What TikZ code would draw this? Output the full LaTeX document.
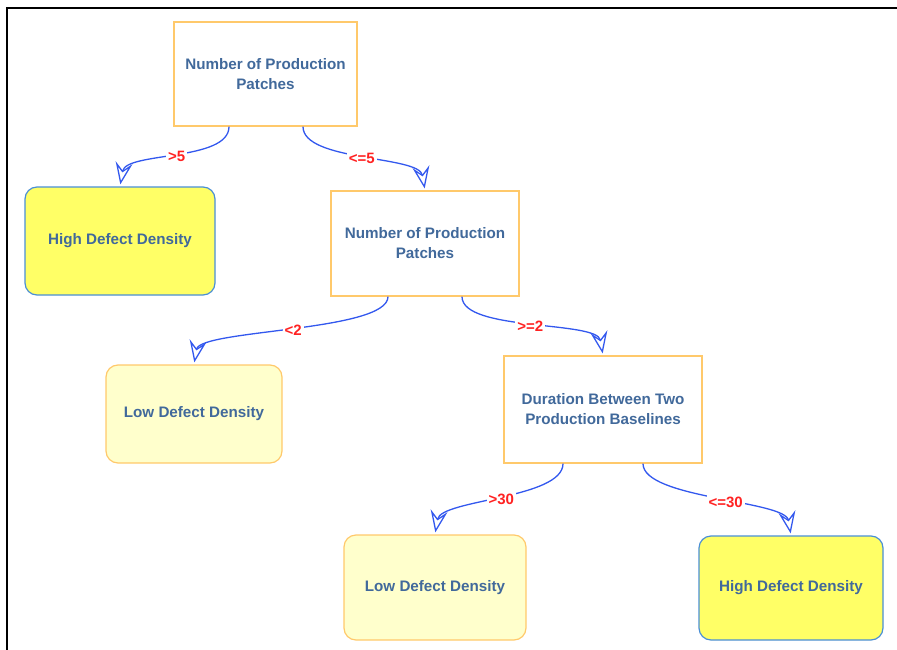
\documentclass[tikz,border=0pt]{standalone}
\usepackage{fontspec}
\setmainfont{Liberation Sans}
\usetikzlibrary{arrows.meta}

\definecolor{txtblue}{HTML}{41699B}
\definecolor{boxorange}{HTML}{FFC96B}
\definecolor{leafblue}{HTML}{4A8FD6}
\definecolor{leafyellow}{HTML}{FFFF66}
\definecolor{paleyellow}{HTML}{FFFFCC}
\definecolor{edgeblue}{HTML}{3358EE}
\definecolor{lblred}{HTML}{FF2222}

\begin{document}
\begin{tikzpicture}[x=1pt,y=-1pt,
    test/.style={draw=boxorange,line width=1.2pt,fill=white,text=txtblue,align=center,
      font=\fontsize{15.2}{20}\selectfont\bfseries},
    high/.style={draw=leafblue,line width=1.2pt,fill=leafyellow,rounded corners=12pt,text=txtblue,
      font=\fontsize{15.2}{20}\selectfont\bfseries},
    low/.style={draw=boxorange,line width=1.2pt,fill=paleyellow,rounded corners=12pt,text=txtblue,
      font=\fontsize{15.2}{20}\selectfont\bfseries},
    branch/.style={draw=edgeblue,line width=1.3pt,shorten >=2pt,
      -{Stealth[open,length=22pt,width=17pt,inset=8pt]}},
    cond/.style={text=lblred,fill=white,inner sep=2pt,font=\fontsize{15}{16}\selectfont\bfseries}]
            \useasboundingbox (0,0) rectangle (897,650);
            \draw[line width=2.5pt] (7,650) -- (7,8) -- (897,8);

            \node[test,minimum width=183pt,minimum height=104pt] (root) at (265.5,74) {Number of Production\\Patches};
            \node[high,minimum width=190pt,minimum height=108pt] (high1) at (120,241) {High Defect Density};

            \node[test,minimum width=188pt,minimum height=105pt] (patches) at (425,243.5) {Number of Production\\Patches};
            \node[low,minimum width=176pt,minimum height=98pt] (low1) at (194,414) {Low Defect Density};

            \node[test,minimum width=198pt,minimum height=107pt] (duration) at (603,409.5) {Duration Between Two\\Production Baselines};
            \node[low,minimum width=182pt,minimum height=105pt] (low2) at (435,587.5) {Low Defect Density};
            \node[high,minimum width=184pt,minimum height=104pt] (high2) at (791,588) {High Defect Density};

            \draw[branch] ([xshift=-36.5pt]root.south) .. controls +(0,35) and +(6,-35) .. node[cond] {>5} (high1.north);
            \draw[branch] ([xshift=37.5pt]root.south) .. controls +(0,35) and +(-6,-35) .. node[cond] {<=5} (patches.north);
            \draw[branch] ([xshift=-37pt]patches.south) .. controls +(0,35) and +(6,-35) .. node[cond] {<2} (low1.north);
            \draw[branch] ([xshift=37pt]patches.south) .. controls +(0,35) and +(-6,-35) .. node[cond] {>=2} (duration.north);
            \draw[branch] ([xshift=-40pt]duration.south) .. controls +(0,35) and +(6,-35) .. node[cond] {>30} (low2.north);
            \draw[branch] ([xshift=40pt]duration.south) .. controls +(0,35) and +(-6,-35) .. node[cond,pos=0.55] {<=30} (high2.north);

         \end{tikzpicture}
\end{document}
